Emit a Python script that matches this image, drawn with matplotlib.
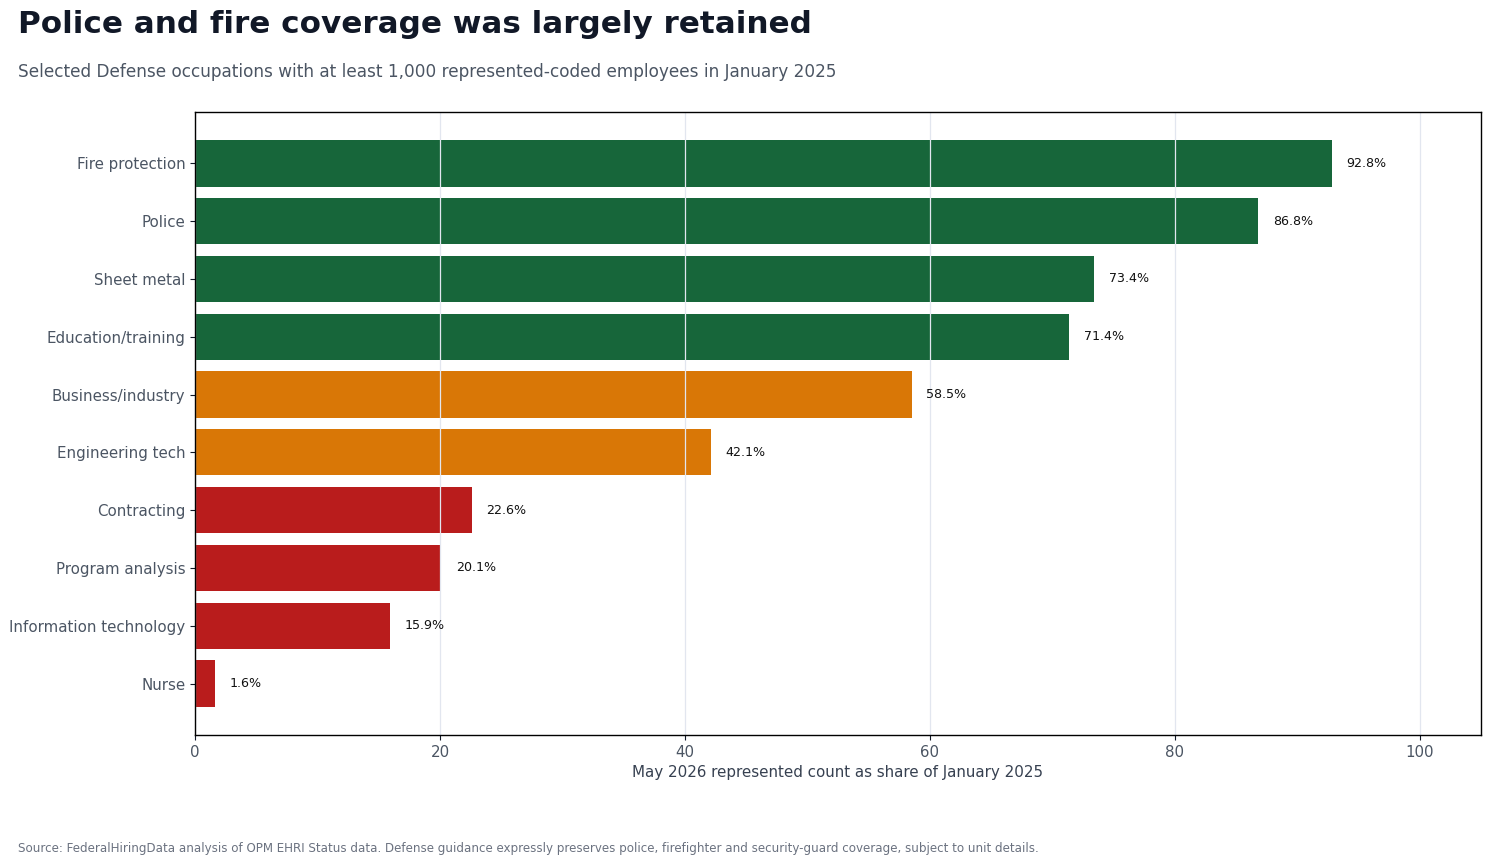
import matplotlib as mpl
mpl.use('Agg')
import matplotlib.pyplot as plt
import numpy as np

plt.rcParams['font.family'] = ['DejaVu Sans']

occupations = ['Fire protection', 'Police', 'Sheet metal', 'Education/training',
               'Business/industry', 'Engineering tech', 'Contracting',
               'Program analysis', 'Information technology', 'Nurse']
shares = [92.8, 86.8, 73.4, 71.4, 58.5, 42.1, 22.6, 20.1, 15.9, 1.6]

GREEN = '#17663a'
ORANGE = '#d97706'
RED = '#b91c1c'

def bar_colour(v):
    if v >= 70:
        return GREEN
    if v >= 40:
        return ORANGE
    return RED

colours = [bar_colour(v) for v in shares]

fig = plt.figure(figsize=(14.91, 8.66), dpi=100, facecolor='white')
ax = fig.add_axes([0.1308, 0.1513, 0.8625, 0.7194])

ypos = np.arange(len(occupations))
ax.barh(ypos, shares, height=0.8, color=colours, zorder=1)
ax.invert_yaxis()
ax.set_yticks(ypos)
ax.set_yticklabels(occupations)
ax.set_xlim(0, 105)
ax.set_xticks([0, 20, 40, 60, 80, 100])

#grid sits on top of the bars
ax.grid(axis='x', color='#e2e6ef', linewidth=0.9, zorder=3)
ax.set_axisbelow(False)
ax.tick_params(axis='both', labelsize=10.8, colors='#111827', labelcolor='#4b5563', length=3.5)

for y, v in zip(ypos, shares):
    ax.annotate(f'{v:.1f}%', (v, y), xytext=(10.5, 0), textcoords='offset points',
                va='center', ha='left', fontsize=9.1, color='#111111')

ax.set_xlabel('May 2026 represented count as share of January 2025', fontsize=10.9,
              color='#374151', labelpad=4)

for s in ax.spines.values():
    s.set_color('black')
    s.set_linewidth(1.0)
    s.set_zorder(5)

fig.text(0.012, 0.972, 'Police and fire coverage was largely retained', fontsize=22.3,
         fontweight='bold', color='#111827', va='center', ha='left')
fig.text(0.012, 0.917, 'Selected Defense occupations with at least 1,000 represented-coded employees in January 2025',
         fontsize=12.2, color='#4b5563', va='center', ha='left')
fig.text(0.012, 0.020, 'Source: FederalHiringData analysis of OPM EHRI Status data. Defense guidance expressly preserves police, firefighter and security-guard coverage, subject to unit details.',
         fontsize=8.6, color='#6b7280', va='center', ha='left')

fig.savefig('out.png', dpi=100, facecolor='white')
